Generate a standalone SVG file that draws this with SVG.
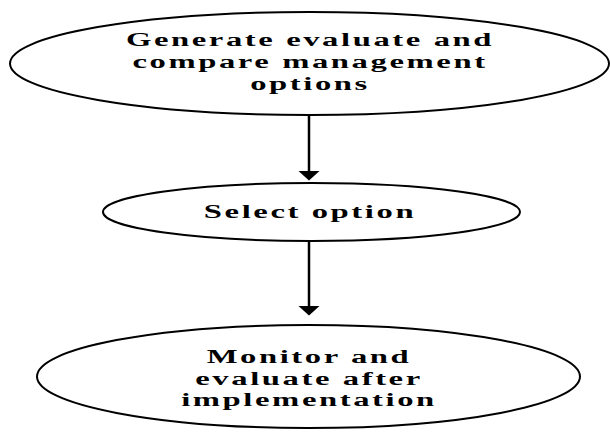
<svg xmlns="http://www.w3.org/2000/svg" width="610" height="433" viewBox="0 0 610 433">
<style>
.node ellipse{fill:#fff;stroke:#000;stroke-width:2}
.lbl{font-family:"Liberation Serif","Times New Roman",serif;font-weight:bold;font-size:19px;fill:#000;text-anchor:middle;letter-spacing:1.5px}
.conn line{stroke:#000;stroke-width:2.5}
</style>
<defs>
<marker id="ah" markerUnits="userSpaceOnUse" markerWidth="10" markerHeight="22" viewBox="0 0 10 22" refX="0" refY="11" orient="auto">
<path d="M0,0.5 L9.5,11 L0,21.5 Z" fill="#000"/>
</marker>
</defs>
<rect width="610" height="433" fill="#fff"/>
<g id="connectors" class="conn">
<line x1="309" y1="116" x2="309" y2="171" marker-end="url(#ah)"/>
<line x1="309" y1="241" x2="309" y2="306" marker-end="url(#ah)"/>
</g>
<g id="node-generate" class="node">
<ellipse cx="309.5" cy="63.5" rx="299.5" ry="51.5"/>
<g transform="translate(310,0) scale(1.72,1)">
<text class="lbl" x="0" y="46">Generate evaluate and</text>
<text class="lbl" x="0" y="68">compare management</text>
<text class="lbl" x="0" y="90">options</text>
</g>
</g>
<g id="node-select" class="node">
<ellipse cx="311.5" cy="212" rx="208.5" ry="29"/>
<g transform="translate(310,0) scale(1.72,1)">
<text class="lbl" x="0" y="218">Select option</text>
</g>
</g>
<g id="node-monitor" class="node">
<ellipse cx="308.5" cy="376.5" rx="271.5" ry="51.5"/>
<g transform="translate(309,0) scale(1.72,1)">
<text class="lbl" x="0" y="363">Monitor and</text>
<text class="lbl" x="0" y="385">evaluate after</text>
<text class="lbl" x="0" y="406">implementation</text>
</g>
</g>
</svg>
